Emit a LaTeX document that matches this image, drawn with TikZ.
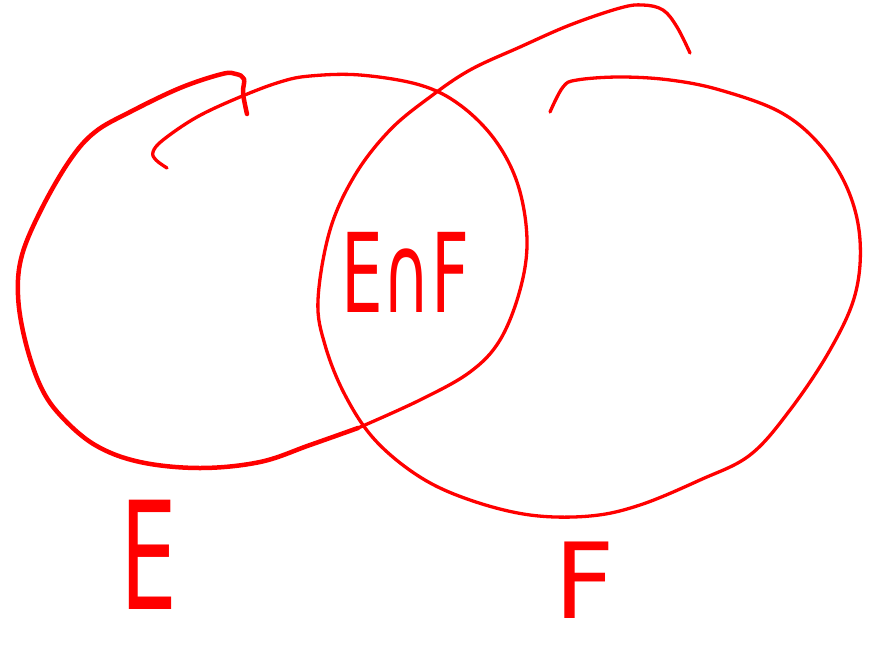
\documentclass[tikz,border=0pt]{standalone}
\usepackage{fontspec}
\usepackage{graphicx}
\newfontfamily\handfont{DejaVu Sans}
\definecolor{pen}{RGB}{255,0,0}
\begin{document}
\begin{tikzpicture}[x=1pt,y=-1pt,
  stroke/.style={draw=pen,line cap=round,line join=round},
  lbl/.style={text=pen,inner sep=0pt,font=\handfont}]
\useasboundingbox (0,0) rectangle (876,654);
% set E (left)
\draw[stroke,line width=4.5pt] plot[smooth,tension=0.6] coordinates {
 (247,114) (243,93) (244,79) (236,74) (222,74) (180,88) (130,112) (95,132) (70,160)
 (42,208) (22,255) (18,295) (25,340) (40,385) (60,415) (95,445) (140,462)
 (200,468) (260,462) (310,445) (358,428)};
\draw[stroke,line width=3.3pt] plot[smooth,tension=0.6] coordinates {
 (358,428) (420,400) (470,372) (500,340) (520,290) (527,240) (518,185)
 (495,140) (460,105) (420,85) (360,75) (310,76) (280,82) (240,97) (197,117)
 (163,140) (153,152) (156,160) (167,168)};
% set F (right)
\draw[stroke,line width=3.3pt] plot[smooth,tension=0.6] coordinates {
 (690,53) (677,27) (663,10) (643,5) (620,8) (570,25) (520,47) (470,70)
 (430,97) (390,130) (355,175) (330,230) (318,300) (325,345) (345,395)
 (375,440) (420,477) (470,500) (530,515) (590,516) (640,505) (700,480)
 (750,455) (790,410) (830,350) (855,295) (860,240) (848,190) (820,145)
 (780,112) (720,90) (670,80) (620,77) (577,80) (563,87) (550,112)};
% labels
\node[lbl] (ef) at (405,272) {\scalebox{0.6}[1]{\fontsize{110}{110}\selectfont E∩F}};
\node[lbl] (e) at (149,555) {\scalebox{0.6}[1]{\fontsize{150}{150}\selectfont E}};
\node[lbl] (f) at (585,580) {\scalebox{1}[1]{\fontsize{105}{105}\selectfont F}};
\end{tikzpicture}
\end{document}
